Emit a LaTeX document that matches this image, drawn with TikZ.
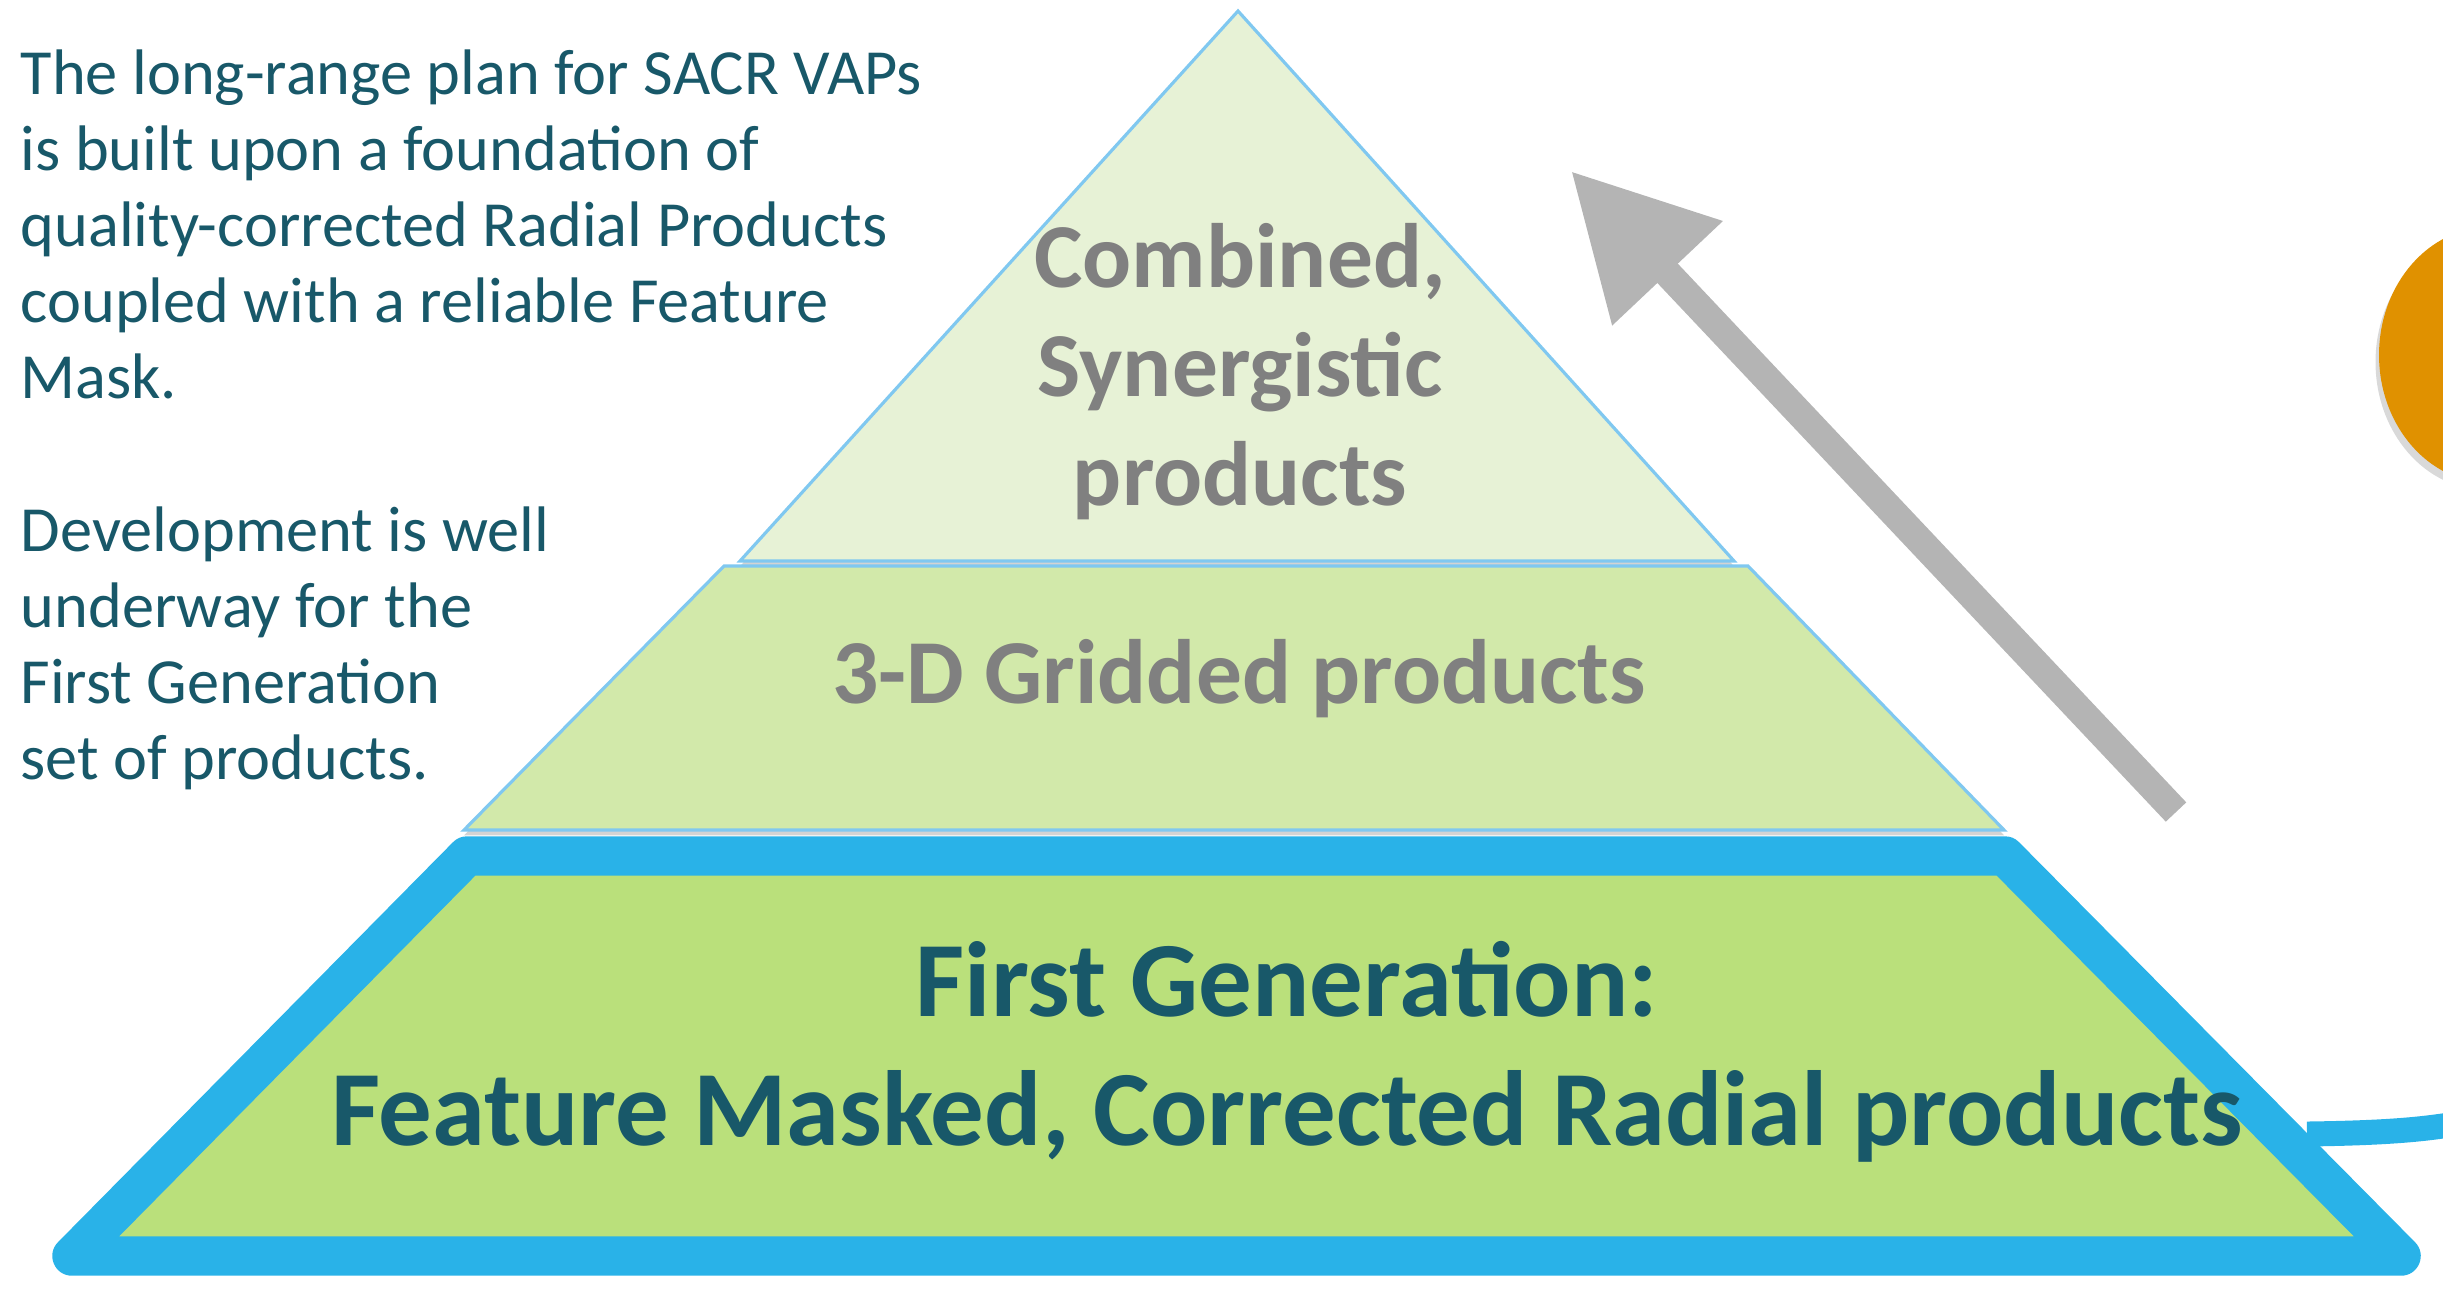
\documentclass[tikz,border=0pt]{standalone}
\usepackage{fontspec}
\setmainfont{Carlito}
\usetikzlibrary{positioning,arrows.meta,shadows}

\definecolor{txtTeal}{RGB}{24,88,105}
\definecolor{rimBlue}{RGB}{41,178,232}
\definecolor{edgeBlue}{RGB}{128,200,240}
\definecolor{topGreen}{RGB}{231,242,214}
\definecolor{midGreen}{RGB}{210,233,170}
\definecolor{baseGreen}{RGB}{186,224,123}
\definecolor{arrowGray}{RGB}{180,180,180}
\definecolor{labelGray}{RGB}{128,128,128}
\definecolor{blobOrange}{RGB}{224,145,0}

\begin{document}
\begin{tikzpicture}[
x=0.01cm, y=-0.01cm,
layer/.style={
fill=#1,
draw=edgeBlue,
line width=0.9pt,
drop shadow={shadow xshift=0pt, shadow yshift=-1.5pt, opacity=0.35}
},
baselayer/.style={
fill=baseGreen,
draw=rimBlue,
line width=11.2pt,
line join=round,
drop shadow={shadow xshift=1pt, shadow yshift=-2pt, opacity=0.3}
},
notes/.style={
anchor=north west,
inner sep=0pt,
align=left,
text=txtTeal,
font=\fontsize{18.3}{21.6}\selectfont
},
tier/.style={
inner sep=0pt,
align=center,
text=labelGray,
font=\bfseries\fontsize{26}{31}\selectfont
}
]
\useasboundingbox (0,0) rectangle (2443,1290);

% orange blob, mostly off the page
\fill[blobOrange, drop shadow={shadow xshift=-1pt, shadow yshift=-2pt, opacity=0.3}]
(2490,355) ellipse [x radius=111, y radius=128];

% pyramid tiers
\filldraw[layer=topGreen] (1238,11) -- (1734,561) -- (740,561) -- cycle;
\filldraw[layer=midGreen] (724,566) -- (1748,566) -- (2004,830) -- (464,830) -- cycle;
\filldraw[baselayer] (467,856) -- (2005,856) -- (2401,1256) -- (72,1256) -- cycle;

% left notes
\node (plan) [notes] at (20,49) {The long-range plan for SACR VAPs\\
is built upon a foundation of\\
quality-corrected Radial Products\\
coupled with a reliable Feature\\
Mask.};
\node (devel) [notes, below=30.3pt of plan.south west, anchor=north west] {Development is well\\
underway for the\\
First Generation\\
set of products.};

% tier labels
\node (combined) [tier] at (1240,372) {Combined,\\ Synergistic\\ products};
\node (gridded) [tier] at (1239,679) {3-D Gridded products};
\node (firstgen) [tier, text=txtTeal, font=\bfseries\fontsize{30.4}{36.6}\selectfont]
at (1287,1052) {First Generation:\\ Feature Masked, Corrected Radial products};

% gray arrow up the side
\coordinate (arrTail) at (2176,812);
\coordinate (arrTip) at (1571,171);
\draw[arrowGray, line width=8pt, -{Triangle[length=40pt, width=41pt]}] (arrTail) -- (arrTip);

% blue link leaving the picture
\coordinate (linkStart) at (2307,1134);
\coordinate (linkEnd) at (2455,1124);
\draw[rimBlue, line width=7.1pt, drop shadow={shadow xshift=0.5pt, shadow yshift=-1.5pt, opacity=0.3}]
(linkStart) .. controls (2380,1133) and (2420,1130) .. (linkEnd);
\end{tikzpicture}
\end{document}
